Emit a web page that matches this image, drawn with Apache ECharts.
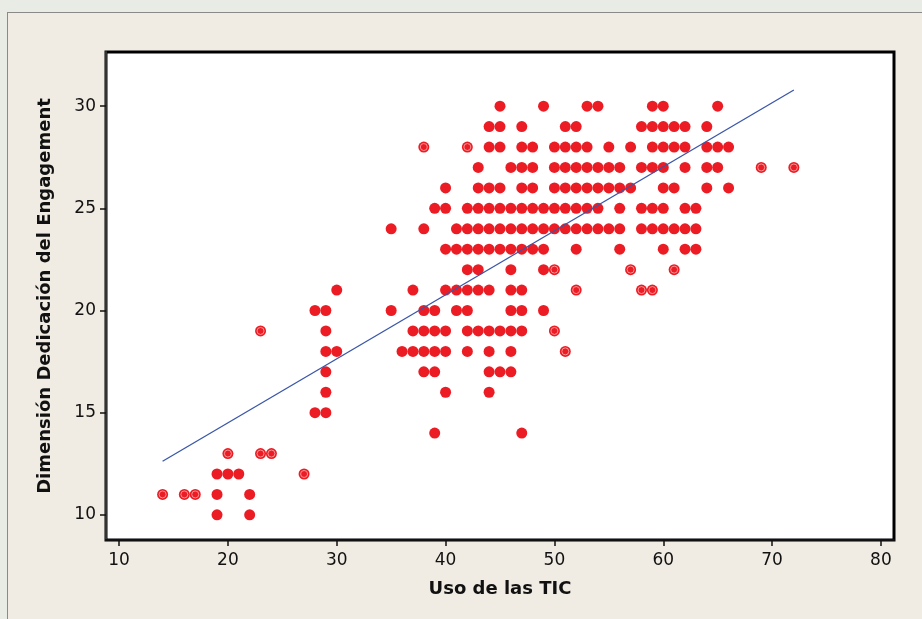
<!DOCTYPE html>
<html>
<head>
<meta charset="utf-8">
<script src="https://cdn.jsdelivr.net/npm/echarts@6/dist/echarts.min.js"></script>
<style>
  html, body { margin: 0; padding: 0; width: 922px; height: 619px; overflow: hidden; background: #e9ebe5; }
  #panel { position: absolute; left: 7px; top: 12px; width: 914px; height: 606px; background: #f0ece3; border-left: 1px solid #8a8a8a; border-top: 1px solid #8a8a8a; }
  #chart { position: absolute; left: 0; top: 0; width: 914px; height: 606px; }
</style>
</head>
<body>
<div id="panel"><div id="chart"></div></div>
<script>
// Data: for each y value (Dimensión Dedicación del Engagement), the x values (Uso de las TIC)
const yLevels = [30, 29, 28, 27, 26, 25, 24, 23, 22, 21, 20, 19, 18, 17, 16, 15, 14, 13, 12, 11, 10];
const xSolid = [
  [45, 49, 53, 54, 59, 60, 65],
  [44, 45, 47, 51, 52, 58, 59, 60, 61, 62, 64],
  [44, 45, 47, 48, 50, 51, 52, 53, 55, 57, 59, 60, 61, 62, 64, 65, 66],
  [43, 46, 47, 48, 50, 51, 52, 53, 54, 55, 56, 58, 59, 60, 62, 64, 65],
  [40, 43, 44, 45, 47, 48, 50, 51, 52, 53, 54, 55, 56, 57, 60, 61, 64, 66],
  [39, 40, 42, 43, 44, 45, 46, 47, 48, 49, 50, 51, 52, 53, 54, 56, 58, 59, 60, 62, 63],
  [35, 38, 41, 42, 43, 44, 45, 46, 47, 48, 49, 50, 51, 52, 53, 54, 55, 56, 58, 59, 60, 61, 62, 63],
  [40, 41, 42, 43, 44, 45, 46, 47, 48, 49, 52, 56, 60, 62, 63],
  [42, 43, 46, 49],
  [30, 37, 40, 41, 42, 43, 44, 46, 47],
  [28, 29, 35, 38, 39, 41, 42, 46, 47, 49],
  [29, 37, 38, 39, 40, 42, 43, 44, 45, 46, 47],
  [29, 30, 36, 37, 38, 39, 40, 42, 44, 46],
  [29, 38, 39, 44, 45, 46],
  [29, 40, 44],
  [28, 29],
  [39, 47],
  [],
  [19, 20, 21],
  [19, 22],
  [19, 22]
];
// Points drawn with the ringed (overplotted) symbol
const xRinged = [
  [], [], [38, 42], [69, 72], [], [], [], [], [50, 57, 61], [52, 58, 59], [], [23, 50], [51], [], [], [], [],
  [20, 23, 24], [27], [14, 16, 17], []
];
const xTicks = [10, 20, 30, 40, 50, 60, 70, 80];
const yTicks = [10, 15, 20, 25, 30];

function toPoints(rows) {
  const out = [];
  rows.forEach((xs, i) => xs.forEach(x => out.push([x, yLevels[i]])));
  return out;
}
const solidPts = toPoints(xSolid);
const ringPts = toPoints(xRinged);
const allPts = solidPts.concat(ringPts);

// Least-squares fitted line
const n = allPts.length;
let sx = 0, sy = 0, sxx = 0, sxy = 0;
allPts.forEach(([x, y]) => { sx += x; sy += y; sxx += x * x; sxy += x * y; });
const slope = (n * sxy - sx * sy) / (n * sxx - sx * sx);
const icpt = (sy - slope * sx) / n;
const xsAll = allPts.map(p => p[0]);
const xMin = Math.min(...xsAll), xMax = Math.max(...xsAll);
const fitLine = [[xMin, icpt + slope * xMin], [xMax, icpt + slope * xMax]];

const RED = '#ec1c24';
const FONT = 'DejaVu Sans';
const chart = echarts.init(document.getElementById('chart'), null, { renderer: 'canvas' });
chart.setOption({
  animation: false,
  backgroundColor: 'transparent',
  grid: { left: 98, right: 28, top: 39, bottom: 79, show: true, backgroundColor: '#ffffff', borderColor: '#000', borderWidth: 3 },
  xAxis: {
    type: 'value', min: 8.8, max: 81.2,
    name: 'Uso de las TIC', nameLocation: 'middle', nameGap: 40,
    nameTextStyle: { fontFamily: FONT, fontWeight: 'bold', fontSize: 18, color: '#111' },
    axisLine: { show: true, onZero: false, lineStyle: { color: '#111', width: 2 } },
    axisTick: { show: true, length: 6, inside: false, customValues: xTicks, lineStyle: { color: '#111', width: 1.5 } },
    axisLabel: { customValues: xTicks, margin: 12, fontFamily: FONT, fontSize: 17, color: '#111' },
    splitLine: { show: false }
  },
  yAxis: {
    type: 'value', min: 8.77, max: 32.65,
    name: 'Dimensión Dedicación del Engagement', nameLocation: 'middle', nameGap: 52,
    nameTextStyle: { fontFamily: FONT, fontWeight: 'bold', fontSize: 18, color: '#111' },
    axisLine: { show: true, onZero: false, lineStyle: { color: '#333', width: 2 } },
    axisTick: { show: true, length: 6, inside: false, customValues: yTicks, lineStyle: { color: '#111', width: 1.5 } },
    axisLabel: { customValues: yTicks, margin: 10, fontFamily: FONT, fontSize: 17, color: '#111' },
    splitLine: { show: false }
  },
  series: [
    { type: 'scatter', data: solidPts, symbol: 'circle', symbolSize: 11, itemStyle: { color: RED, opacity: 1 }, z: 3 },
    { type: 'scatter', data: ringPts, symbol: 'circle', symbolSize: 11, itemStyle: { color: RED, opacity: 1 }, z: 3 },
    { type: 'scatter', data: ringPts, symbol: 'circle', symbolSize: 7, itemStyle: { color: RED, borderColor: '#ffb0b0', borderWidth: 0.8, opacity: 1 }, z: 4 },
    { type: 'line', data: fitLine, symbol: 'none', lineStyle: { color: '#3a56a8', width: 1.3 }, z: 5 }
  ]
});
</script>
</body>
</html>
